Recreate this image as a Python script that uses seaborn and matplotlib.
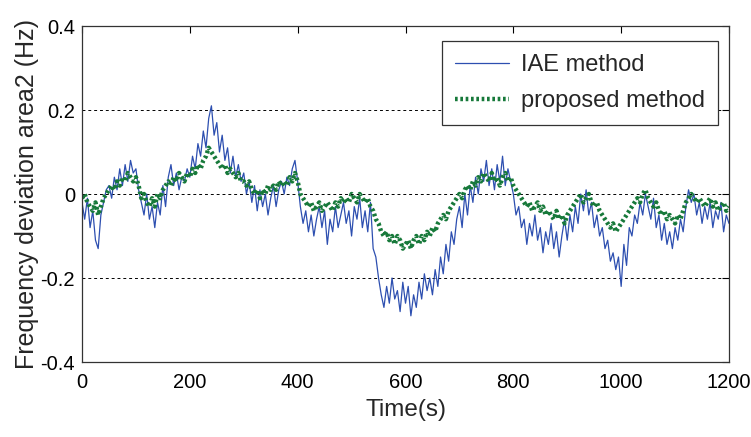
import numpy as np
import pandas as pd
import matplotlib
matplotlib.use("Agg")
import matplotlib.pyplot as plt
import seaborn as sns

t_step = 5

iae_values = [
    -0.02, -0.06, -0.01, -0.08, -0.04, -0.11, -0.13, -0.05, -0.02, 0.01,
    0.02, -0.01, 0.04, 0.01, 0.06, 0.02, 0.07, 0.03, 0.08, 0.05,
    0.06, 0.01, -0.02, -0.05, 0.00, -0.06, -0.03, -0.08, -0.02, -0.05,
    0.02, -0.03, 0.04, 0.07, 0.02, 0.05, 0.01, 0.04, 0.03, 0.06,
    0.04, 0.09, 0.06, 0.12, 0.09, 0.15, 0.11, 0.18, 0.21, 0.14,
    0.17, 0.10, 0.14, 0.08, 0.11, 0.05, 0.09, 0.04, 0.07, 0.03,
    0.05, 0.00, 0.03, -0.02, 0.02, -0.04, 0.01, -0.03, 0.00, -0.05,
    -0.01, 0.02, -0.03, 0.01, 0.03, 0.00, 0.04, 0.02, 0.06, 0.08,
    0.03, -0.03, -0.07, -0.04, -0.09, -0.05, -0.10, -0.06, -0.03, -0.08,
    -0.04, -0.12, -0.06, -0.09, -0.03, -0.08, -0.05, -0.02, -0.07, -0.04,
    -0.10, -0.03, -0.06, -0.01, -0.08, -0.04, -0.09, -0.02, -0.13, -0.15,
    -0.20, -0.24, -0.27, -0.22, -0.26, -0.20, -0.25, -0.23, -0.28, -0.21,
    -0.26, -0.22, -0.29, -0.24, -0.27, -0.21, -0.25, -0.19, -0.23, -0.20,
    -0.24, -0.18, -0.22, -0.15, -0.19, -0.12, -0.16, -0.09, -0.12, -0.06,
    -0.03, -0.08, 0.00, -0.05, 0.02, -0.02, 0.04, 0.00, 0.06, 0.03,
    0.08, 0.02, 0.06, 0.01, 0.07, 0.03, 0.09, 0.02, 0.06, 0.03,
    0.00, -0.05, -0.03, -0.08, -0.06, -0.12, -0.07, -0.10, -0.05, -0.11,
    -0.08, -0.14, -0.09, -0.12, -0.07, -0.13, -0.09, -0.15, -0.10, -0.06,
    -0.11, -0.05, -0.09, -0.03, -0.07, 0.00, -0.04, 0.01, -0.05, -0.02,
    -0.08, -0.05, -0.10, -0.08, -0.13, -0.11, -0.16, -0.14, -0.18, -0.15,
    -0.22, -0.12, -0.17, -0.08, -0.10, -0.05, -0.07, -0.02, -0.05, 0.00,
    -0.03, -0.06, -0.01, -0.08, -0.05, -0.11, -0.07, -0.12, -0.09, -0.13,
    -0.08, -0.11, -0.06, -0.09, -0.03, 0.01, -0.02, 0.00, -0.05, -0.02,
    -0.07, -0.03, -0.06, -0.02, -0.08, -0.04, -0.06, -0.02, -0.09, -0.05,
    -0.07,
]

proposed_values = [
    -0.01, 0.00, -0.02, -0.03, -0.04, -0.02, -0.05, -0.03, -0.01, 0.00,
    0.01, 0.02, 0.01, 0.03, 0.02, 0.04, 0.03, 0.05, 0.04, 0.03,
    0.04, 0.02, -0.01, 0.00, -0.02, -0.03, -0.01, -0.03, 0.00, -0.01,
    0.01, 0.02, 0.03, 0.02, 0.04, 0.03, 0.05, 0.04, 0.03, 0.05,
    0.04, 0.06, 0.05, 0.07, 0.06, 0.08, 0.09, 0.11, 0.10, 0.09,
    0.08, 0.07, 0.06, 0.07, 0.05, 0.06, 0.05, 0.04, 0.05, 0.03,
    0.03, 0.02, 0.03, 0.01, 0.00, 0.01, -0.01, 0.01, 0.00, 0.02,
    0.01, 0.02, 0.01, 0.03, 0.02, 0.03, 0.02, 0.04, 0.03, 0.05,
    0.03, 0.00, -0.01, -0.02, -0.03, -0.02, -0.04, -0.03, -0.02, -0.04,
    -0.03, -0.02, -0.03, -0.04, -0.02, -0.03, -0.01, -0.02, -0.01, -0.02,
    0.00, -0.01, -0.02, 0.00, -0.01, -0.02, -0.01, -0.03, -0.04, -0.06,
    -0.07, -0.09, -0.10, -0.09, -0.11, -0.10, -0.12, -0.10, -0.11, -0.13,
    -0.12, -0.11, -0.13, -0.11, -0.10, -0.12, -0.10, -0.11, -0.09, -0.10,
    -0.08, -0.09, -0.07, -0.06, -0.05, -0.06, -0.04, -0.03, -0.02, -0.01,
    0.00, -0.01, 0.01, 0.02, 0.01, 0.03, 0.02, 0.04, 0.03, 0.05,
    0.04, 0.03, 0.05, 0.03, 0.04, 0.02, 0.04, 0.05, 0.03, 0.04,
    0.02, 0.01, 0.00, -0.01, -0.02, -0.03, -0.02, -0.04, -0.03, -0.02,
    -0.04, -0.03, -0.05, -0.04, -0.05, -0.06, -0.04, -0.06, -0.05, -0.07,
    -0.05, -0.04, -0.03, -0.02, -0.01, 0.00, -0.02, -0.01, 0.00, -0.02,
    -0.03, -0.02, -0.04, -0.05, -0.06, -0.07, -0.08, -0.07, -0.09, -0.08,
    -0.07, -0.06, -0.05, -0.04, -0.03, -0.02, -0.01, -0.02, 0.00, 0.01,
    -0.01, -0.02, -0.03, -0.02, -0.04, -0.05, -0.04, -0.06, -0.05, -0.06,
    -0.07, -0.05, -0.06, -0.04, -0.02, -0.01, 0.00, -0.01, -0.02, -0.01,
    -0.02, -0.03, -0.02, -0.01, -0.03, -0.02, -0.04, -0.03, -0.02, -0.04,
    -0.03,
]

x_ticks = [0, 200, 400, 600, 800, 1000, 1200]
y_ticks = [-0.4, -0.2, 0, 0.2, 0.4]
y_tick_labels = ["-0.4", "-0.2", "0", "0.2", "0.4"]

df_iae = pd.DataFrame({"t": np.arange(len(iae_values)) * t_step, "v": iae_values})
df_prop = pd.DataFrame({"t": np.arange(len(proposed_values)) * t_step, "v": proposed_values})

sns.set_theme(style="white")
plt.rcParams["font.family"] = ["Liberation Sans", "DejaVu Sans"]

fig = plt.figure(figsize=(7.51, 4.37), dpi=100)
ax = fig.add_axes([82 / 751, 75 / 437, 647 / 751, 336 / 437])

sns.lineplot(data=df_iae, x="t", y="v", ax=ax, color="#2d4fb0", linewidth=0.9,
             label="IAE method")
sns.lineplot(data=df_prop, x="t", y="v", ax=ax, color="#17793a", linewidth=3.2,
             linestyle=(0, (0.6, 0.6)), label="proposed method")

ax.set_xlim(0, 1200)
ax.set_ylim(-0.4, 0.4)
ax.set_xticks(x_ticks)
ax.set_yticks(y_ticks)
ax.set_yticklabels(y_tick_labels)
for yv in [-0.2, 0, 0.2]:
    ax.axhline(yv, color="black", linestyle=(0, (3, 3)), linewidth=0.7, zorder=0)

ax.tick_params(direction="in", top=True, right=True, length=5, width=0.8,
               labelsize=14.5, colors="black")
ax.tick_params(axis="x", pad=8)
ax.tick_params(axis="y", pad=5)
for s in ax.spines.values():
    s.set_color("#333333")
    s.set_linewidth(0.9)

ax.set_xlabel("Time(s)", fontsize=17.5, labelpad=5)
ax.set_ylabel("Frequency deviation area2 (Hz)", fontsize=18, labelpad=1)

leg = ax.legend(loc="upper right", bbox_to_anchor=(0.983, 0.955), fontsize=17,
                frameon=True, fancybox=False, framealpha=1, edgecolor="#333333",
                handlelength=2.3, borderpad=0.55, labelspacing=0.6, handletextpad=0.5,
                borderaxespad=0)
leg.get_frame().set_linewidth(0.9)

fig.savefig("out.png", dpi=100)
